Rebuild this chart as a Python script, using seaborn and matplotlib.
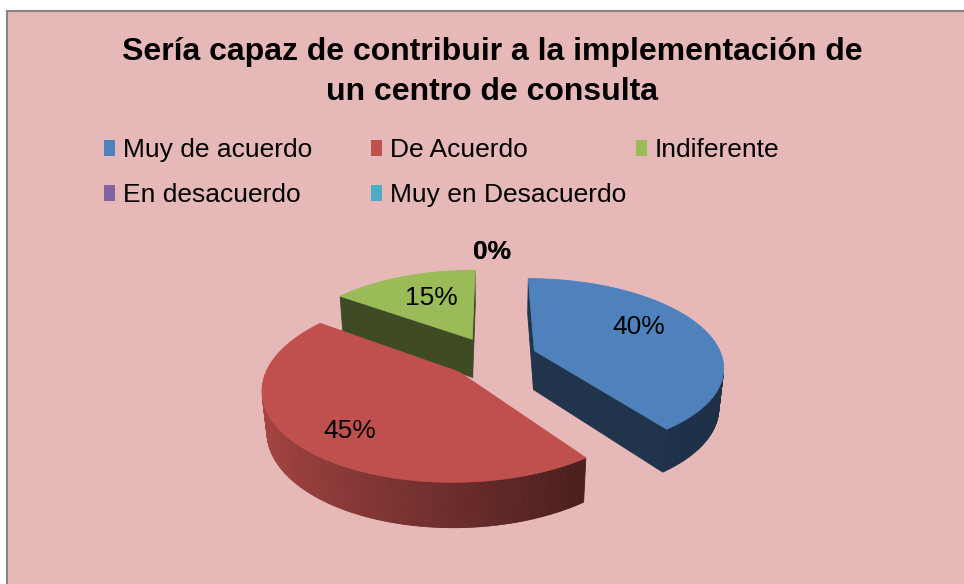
import numpy as np
import matplotlib
matplotlib.use("Agg")
import matplotlib.pyplot as plt
import seaborn as sns
from matplotlib.patches import Polygon, Rectangle, Patch
from matplotlib.colors import to_rgb

# ---------------- data ----------------
categories = ["Muy de acuerdo", "De Acuerdo", "Indiferente", "En desacuerdo", "Muy en Desacuerdo"]
values = [40, 45, 15, 0, 0]
value_labels = ["40%", "45%", "15%", "0%", "0%"]
title_text = "Sería capaz de contribuir a la implementación de\nun centro de consulta"
colors = ["#4F81BD", "#C0504D", "#9BBB59", "#8064A2", "#4BACC6"]

# ---------------- style ----------------
sns.set_theme(style="white")
plt.rcParams["font.family"] = ["Liberation Sans", "DejaVu Sans"]
plt.rcParams["text.color"] = "black"

W, H = 964, 584
fig = plt.figure(figsize=(W / 100, H / 100), dpi=100)
fig.patch.set_facecolor("white")
bg = Rectangle((7 / W, -0.02), 1.05, (H - 11) / H + 0.02, transform=fig.transFigure,
               facecolor="#E6B9B8", edgecolor="#868686", linewidth=1.5, zorder=-5)
fig.patches.append(bg)

ax = fig.add_axes([0, 0, 1, 1])
ax.set_xlim(0, W)
ax.set_ylim(H, 0)
ax.axis("off")
ax.patch.set_alpha(0)
ax.set_zorder(2)

# ---------------- 3D pie projection ----------------
CX, CY = 492, 357
F = 995.0
DIST = 5.3
ELEV = np.radians(27.3)
THICK = 0.24
EXPLODE = 0.24
label_r = [0.67, 0.76, 0.62, 1.30, 1.30]
label_dang = [-8.4, -4.4, 2.6, 0.0, 0.0]
ce, se = np.cos(ELEV), np.sin(ELEV)
cam = np.array([0.0, -DIST * ce, DIST * se])


def proj(X, Y, Z):
    d = DIST + Y * ce - Z * se
    return (CX + F * X / d, CY - F * (Z * ce + Y * se) / d)


def shade(col, f):
    r, g, b = to_rgb(col)
    return (r * f, g * f, b * f)


total = float(sum(values))
starts = np.cumsum([0] + values[:-1]) / total * 2 * np.pi
spans = np.array(values) / total * 2 * np.pi

slices = []
for i, v in enumerate(values):
    th1 = starts[i]
    th2 = th1 + spans[i]
    mid = (th1 + th2) / 2
    ox, oy = EXPLODE * np.sin(mid), EXPLODE * np.cos(mid)
    slices.append((i, th1, th2, mid, ox, oy))

# draw far slices first
order = sorted([s for s in slices if values[s[0]] > 0],
               key=lambda s: -np.linalg.norm(np.array([s[4], s[5], 0]) - cam))

for (i, th1, th2, mid, ox, oy) in order:
    base = colors[i]
    n = max(3, int(np.degrees(th2 - th1) * 2))
    th = np.linspace(th1, th2, n)
    # outer wall
    for k in range(n - 1):
        a, b = th[k], th[k + 1]
        m = (a + b) / 2
        nrm = np.array([np.sin(m), np.cos(m), 0])
        p = np.array([ox + np.sin(m), oy + np.cos(m), -THICK / 2])
        if np.dot(nrm, cam - p) <= 0:
            continue
        pts = [proj(ox + np.sin(a), oy + np.cos(a), 0), proj(ox + np.sin(b), oy + np.cos(b), 0),
               proj(ox + np.sin(b), oy + np.cos(b), -THICK), proj(ox + np.sin(a), oy + np.cos(a), -THICK)]
        f = np.clip(0.56 - 0.309 * np.sin(m), 0.38, 0.9)
        c = shade(base, f)
        ax.add_patch(Polygon(pts, closed=True, facecolor=c, edgecolor=c, linewidth=0.6, zorder=2))
    # cut faces
    for ang, sign in ((th1, -1), (th2, 1)):
        nrm = sign * np.array([np.cos(ang), -np.sin(ang), 0])
        p = np.array([ox + 0.5 * np.sin(ang), oy + 0.5 * np.cos(ang), -THICK / 2])
        if np.dot(nrm, cam - p) <= 0:
            continue
        pts = [proj(ox, oy, 0), proj(ox + np.sin(ang), oy + np.cos(ang), 0),
               proj(ox + np.sin(ang), oy + np.cos(ang), -THICK), proj(ox, oy, -THICK)]
        c = shade(base, 0.4)
        ax.add_patch(Polygon(pts, closed=True, facecolor=c, edgecolor=c, linewidth=0.6, zorder=2))
    # top face
    pts = [proj(ox, oy, 0)] + [proj(ox + np.sin(t), oy + np.cos(t), 0) for t in th]
    ax.add_patch(Polygon(pts, closed=True, facecolor=base, edgecolor=base, linewidth=0.6, zorder=3))

# value labels
for (i, th1, th2, mid, ox, oy) in slices:
    r = label_r[i]
    a = mid + np.radians(label_dang[i])
    x, y = proj(ox + r * np.sin(a), oy + r * np.cos(a), 0)
    ax.text(x, y, value_labels[i], ha="center", va="center", fontsize=19,
            fontweight="bold" if values[i] == 0 else "normal", color="black", zorder=5)

# title
fig.text(492 / W, 1 - 72 / H, title_text, ha="center", va="center", fontsize=23,
         fontweight="bold", linespacing=1.4, color="black")

# legend: three equally spaced columns
handles = [Patch(facecolor=c, edgecolor="none") for c in colors]
col_x = [104, 371, 636]
cols = [[0, 3], [1, 4], [2]]
for cx, idx in zip(col_x, cols):
    leg = fig.legend([handles[j] for j in idx], [categories[j] for j in idx],
                     loc="upper left", bbox_to_anchor=(cx / W, 1 - 138 / H),
                     frameon=False, fontsize=19, handlelength=0.42, handleheight=0.55,
                     handletextpad=0.3, labelspacing=0.8, borderpad=0, borderaxespad=0,
                     labelcolor="black")

fig.savefig("out.png", dpi=100, facecolor=fig.get_facecolor())
